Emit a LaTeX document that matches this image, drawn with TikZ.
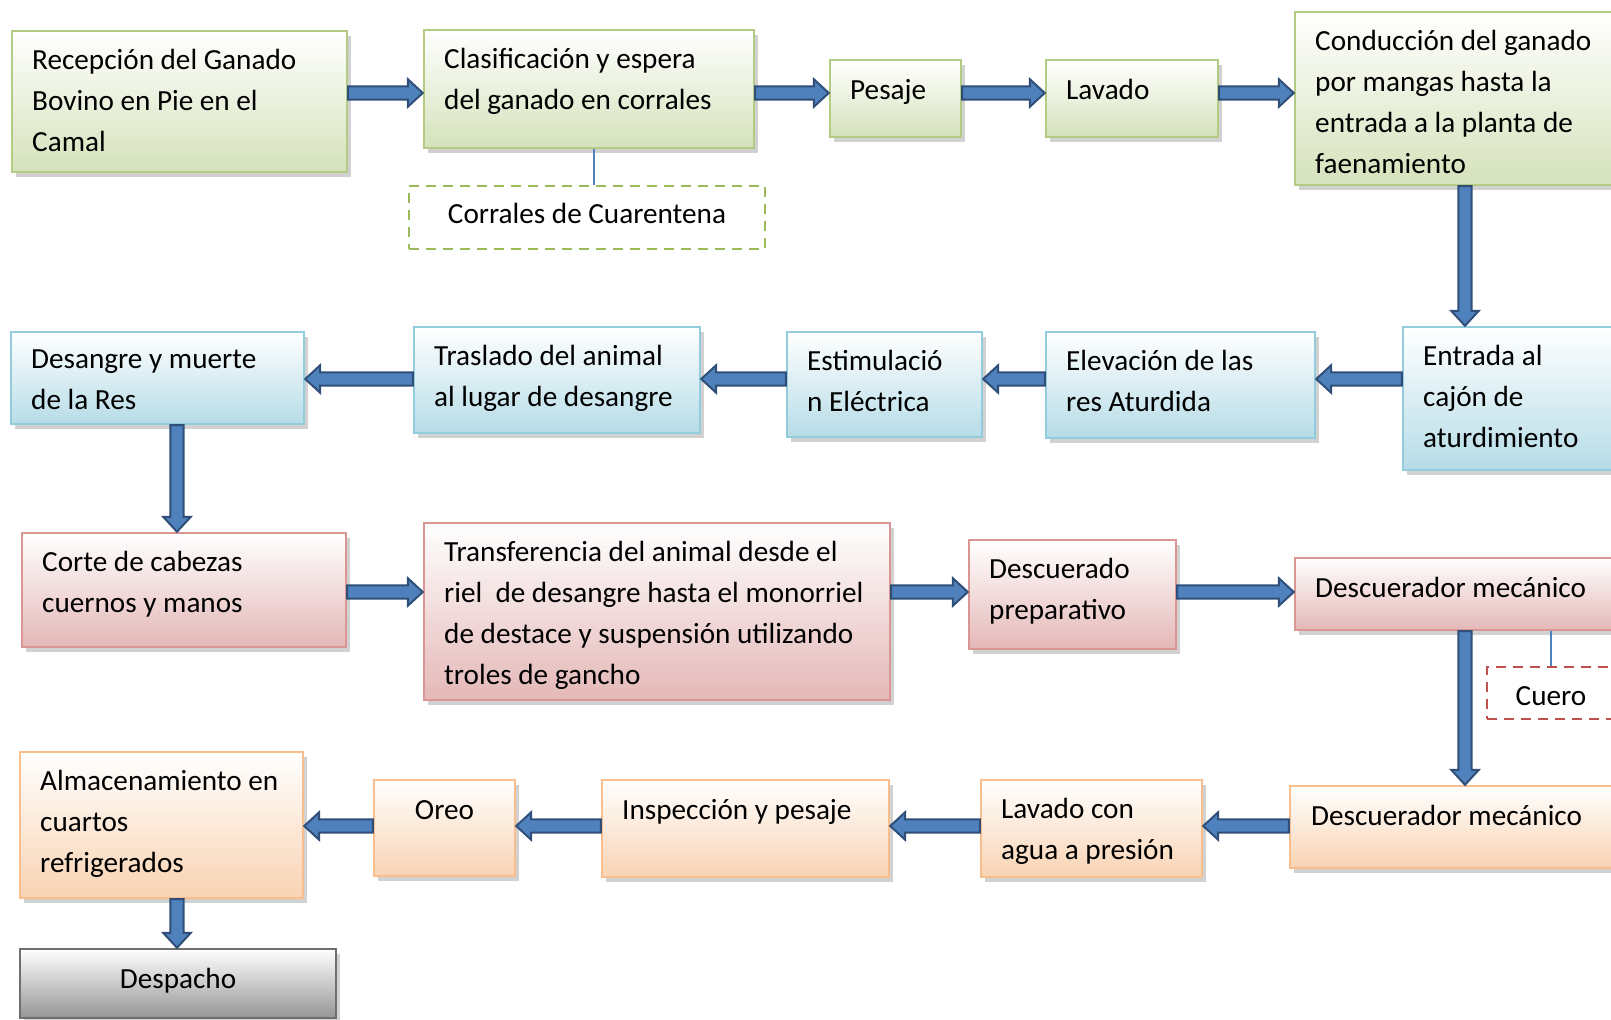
\documentclass[tikz,border=0pt]{standalone}
\usepackage{fontspec}
\setmainfont{Carlito}
\usepackage{tikz}
\usetikzlibrary{calc, fit, shadows}

\definecolor{greenline}{HTML}{B3CB85}
\definecolor{greenfill}{HTML}{D5E2BB}
\definecolor{blueline}{HTML}{93CDDD}
\definecolor{bluefill}{HTML}{B6DCE7}
\definecolor{redline}{HTML}{D99694}
\definecolor{redfill}{HTML}{E4B8B7}
\definecolor{orangeline}{HTML}{F9BE8E}
\definecolor{orangefill}{HTML}{F9D3B3}
\definecolor{grayline}{HTML}{6F6F6F}
\definecolor{grayfill}{HTML}{959595}
\definecolor{arrowfill}{HTML}{4F81BD}
\definecolor{arrowline}{HTML}{2F4F78}
\definecolor{dashgreen}{HTML}{9BBB59}
\definecolor{dashred}{HTML}{C0504D}

\newcommand{\boxfont}{\fontsize{14.6pt}{20.5pt}\selectfont}

\tikzset{
  pbox/.style={rectangle, inner sep=0pt, line width=1.2pt, top color=white,
    drop shadow={shadow xshift=2.2pt, shadow yshift=-2.5pt, opacity=0.3, fill=black!60}},
  greenbox/.style={pbox, draw=greenline, bottom color=greenfill},
  bluebox/.style={pbox, draw=blueline, bottom color=bluefill},
  redbox/.style={pbox, draw=redline, bottom color=redfill},
  orangebox/.style={pbox, draw=orangeline, bottom color=orangefill},
  graybox/.style={pbox, draw=grayline, bottom color=grayfill},
  dashbox/.style={rectangle, inner sep=0pt, line width=1.2pt, dashed,
    dash pattern=on 5pt off 3.5pt, fill=white},
  txt/.style={inner sep=0pt, align=left, font=\boxfont, execute at begin node=\strut},
  link/.style={draw=arrowfill, line width=0.6pt},
  blockarr/.style={draw=arrowline, fill=arrowfill, line width=1pt, line join=miter}
}

% fat block arrow from #1 to #2
\newcommand{\blockarrow}[2]{%
  \path (#1) coordinate (ba-s) (#2) coordinate (ba-t)
    ($(ba-t)!7.5pt!(ba-s)$) coordinate (ba-h);
  \draw[blockarr] ($(ba-s)!3.3pt!90:(ba-t)$) -- ($(ba-h)!3.3pt!-90:(ba-s)$)
    -- ($(ba-h)!6.9pt!-90:(ba-s)$) -- (ba-t) -- ($(ba-h)!6.9pt!90:(ba-s)$)
    -- ($(ba-h)!3.3pt!90:(ba-s)$) -- ($(ba-s)!3.3pt!-90:(ba-t)$) -- cycle;}

\begin{document}
\begin{tikzpicture}[x=0.5pt, y=-0.5pt]
    \clip (0,0) rectangle (1611,1020);

    % first row
    \node[greenbox, fit={(12,31) (347,172)}] (recep) {};
    \node[greenbox, fit={(424,30) (754,148)}] (clasif) {};
    \node[dashbox, draw=dashgreen, fit={(409,186) (765,249)}] (corrales) {};
    \node[greenbox, fit={(830,60) (961,137)}] (pesaje) {};
    \node[greenbox, fit={(1046,60) (1218,137)}] (lavado) {};
    \node[greenbox, fit={(1295,12) (1635,185)}] (conduc) {};

    % second row
    \node[bluebox, fit={(1403,327) (1650,470)}] (entrada) {};
    \node[bluebox, fit={(1046,332) (1315,438)}] (elev) {};
    \node[bluebox, fit={(787,332) (982,437)}] (estim) {};
    \node[bluebox, fit={(414,327) (700,433)}] (traslado) {};
    \node[bluebox, fit={(11,332) (304,424)}] (desangre) {};

    % third row
    \node[redbox, fit={(22,533) (346,647)}] (corte) {};
    \node[redbox, fit={(424,523) (890,700)}] (transf) {};
    \node[redbox, fit={(969,540) (1176,649)}] (descprep) {};
    \node[redbox, fit={(1295,558) (1650,630)}] (descred) {};
    \node[dashbox, draw=dashred, fit={(1487,667) (1615,719)}] (cuero) {};

    % fourth row
    \node[orangebox, fit={(1290,786) (1650,868)}] (descor) {};
    \node[orangebox, fit={(981,780) (1202,877)}] (lavagua) {};
    \node[orangebox, fit={(602,780) (889,877)}] (insp) {};
    \node[orangebox, fit={(374,780) (515,876)}] (oreo) {};
    \node[orangebox, fit={(20,752) (303,898)}] (almac) {};
    \node[graybox, fit={(20,949) (336,1018)}] (despacho) {};

    % texts
    \node[txt, anchor=north west] (recep-t) at ([shift={(21,19)}]recep.north west) {Recepción del Ganado\\Bovino en Pie en el\\Camal};
    \node[txt, anchor=north west] (clasif-t) at ([shift={(21,19)}]clasif.north west) {Clasificación y espera\\del ganado en corrales};
    \node[txt, anchor=north] (corrales-t) at ([shift={(0,10)}]corrales.north) {Corrales de Cuarentena};
    \node[txt, anchor=north west] (pesaje-t) at ([shift={(21,12)}]pesaje.north west) {Pesaje};
    \node[txt, anchor=north west] (lavado-t) at ([shift={(21,12)}]lavado.north west) {Lavado};
    \node[txt, anchor=north west] (conduc-t) at ([shift={(21,19)}]conduc.north west) {Conducción del ganado\\por mangas hasta la\\entrada a la planta de\\faenamiento};
    \node[txt, anchor=north west] (entrada-t) at ([shift={(21,19)}]entrada.north west) {Entrada al\\cajón de\\aturdimiento};
    \node[txt, anchor=north west] (elev-t) at ([shift={(21,19)}]elev.north west) {Elevación de las\\res Aturdida};
    \node[txt, anchor=north west] (estim-t) at ([shift={(21,19)}]estim.north west) {Estimulació\\n Eléctrica};
    \node[txt, anchor=north west] (traslado-t) at ([shift={(21,19)}]traslado.north west) {Traslado del animal\\al lugar de desangre};
    \node[txt, anchor=north west] (desangre-t) at ([shift={(21,19)}]desangre.north west) {Desangre y muerte\\de la Res};
    \node[txt, anchor=north west] (corte-t) at ([shift={(21,19)}]corte.north west) {Corte de cabezas\\cuernos y manos};
    \node[txt, anchor=north west] (transf-t) at ([shift={(21,19)}]transf.north west) {Transferencia del animal desde el\\riel\ \ de desangre hasta el monorriel\\de destace y suspensión utilizando\\troles de gancho};
    \node[txt, anchor=north west] (descprep-t) at ([shift={(21,19)}]descprep.north west) {Descuerado\\preparativo};
    \node[txt, anchor=north west] (descred-t) at ([shift={(21,12)}]descred.north west) {Descuerador mecánico};
    \node[txt, anchor=north] (cuero-t) at ([shift={(0,11)}]cuero.north) {Cuero};
    \node[txt, anchor=north west] (descor-t) at ([shift={(22,12)}]descor.north west) {Descuerador mecánico};
    \node[txt, anchor=north west] (lavagua-t) at ([shift={(21,19)}]lavagua.north west) {Lavado con\\agua a presión};
    \node[txt, anchor=north west] (insp-t) at ([shift={(21,12)}]insp.north west) {Inspección y pesaje};
    \node[txt, anchor=north] (oreo-t) at ([shift={(0,12)}]oreo.north) {Oreo};
    \node[txt, anchor=north west] (almac-t) at ([shift={(21,19)}]almac.north west) {Almacenamiento en\\cuartos\\refrigerados};
    \node[txt, anchor=north] (despacho-t) at ([shift={(0,12)}]despacho.north) {Despacho};

    % levels of the arrows
    \coordinate (r1) at (0,93);
    \coordinate (r2) at (0,379);
    \coordinate (r3) at (0,592);
    \coordinate (r4) at (0,826);
    \coordinate (c1) at (1465,0);
    \coordinate (c2) at (177,0);
    \coordinate (c3) at (594,0);

    % side links
    \draw[link] (c3 |- clasif.south) -- (c3 |- corrales.north);
    \draw[link] (cuero.north) -- (cuero.north |- descred.south);

    % arrows
    \blockarrow{recep.east |- r1}{clasif.west |- r1}
    \blockarrow{clasif.east |- r1}{pesaje.west |- r1}
    \blockarrow{pesaje.east |- r1}{lavado.west |- r1}
    \blockarrow{lavado.east |- r1}{conduc.west |- r1}
    \blockarrow{c1 |- conduc.south}{c1 |- entrada.north}
    \blockarrow{entrada.west |- r2}{elev.east |- r2}
    \blockarrow{elev.west |- r2}{estim.east |- r2}
    \blockarrow{estim.west |- r2}{traslado.east |- r2}
    \blockarrow{traslado.west |- r2}{desangre.east |- r2}
    \blockarrow{c2 |- desangre.south}{c2 |- corte.north}
    \blockarrow{corte.east |- r3}{transf.west |- r3}
    \blockarrow{transf.east |- r3}{descprep.west |- r3}
    \blockarrow{descprep.east |- r3}{descred.west |- r3}
    \blockarrow{c1 |- descred.south}{c1 |- descor.north}
    \blockarrow{descor.west |- r4}{lavagua.east |- r4}
    \blockarrow{lavagua.west |- r4}{insp.east |- r4}
    \blockarrow{insp.west |- r4}{oreo.east |- r4}
    \blockarrow{oreo.west |- r4}{almac.east |- r4}
    \blockarrow{c2 |- almac.south}{c2 |- despacho.north}

\end{tikzpicture}
\end{document}
